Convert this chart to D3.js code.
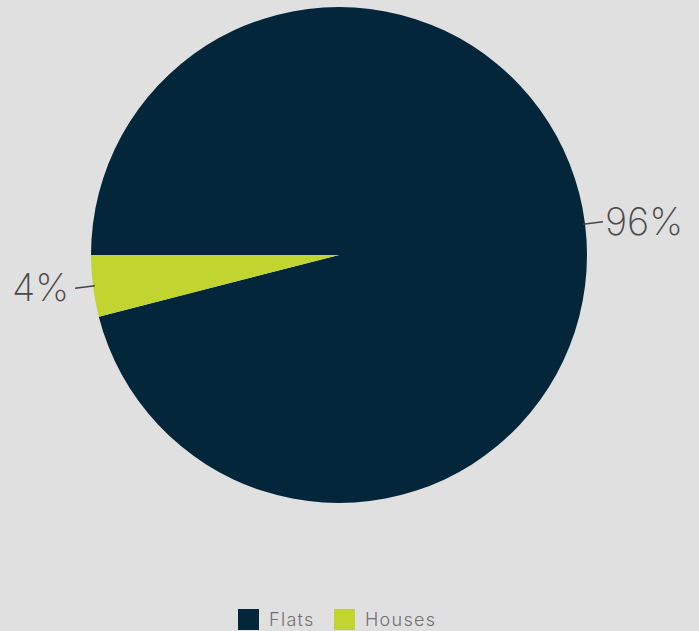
<!DOCTYPE html>
<html>
<head>
<meta charset="utf-8">
<script src="https://cdn.jsdelivr.net/npm/d3@7"></script>
<style>
  body { margin: 0; background: #e0e0e0; }
  svg { display: block; }
</style>
</head>
<body>
<main></main>
<script>
// Data
const categories = ["Flats", "Houses"];
const values = [96, 4];
const labels = ["96%", "4%"];
const colors = ["#03263a", "#c1d42f"];

const width = 699;
const height = 631;
const cx = 339, cy = 255, radius = 248;

const svg = d3.select("main")
  .append("svg")
  .attr("width", width)
  .attr("height", height);

const data = categories.map((c, i) => ({ cat: c, value: values[i], label: labels[i] }));

const pie = d3.pie()
  .value(d => d.value)
  .sort(null)
  .startAngle(-Math.PI / 2)
  .endAngle(3 * Math.PI / 2);

const arc = d3.arc().innerRadius(0).outerRadius(radius);
const color = d3.scaleOrdinal().domain(categories).range(colors);

const g = svg.append("g").attr("transform", `translate(${cx},${cy})`);

const arcs = pie(data);

g.selectAll("path")
  .data(arcs)
  .enter()
  .append("path")
  .attr("d", arc)
  .attr("fill", d => color(d.data.cat));

// Leader lines + labels
const inner = d3.arc().innerRadius(radius - 2).outerRadius(radius - 2);
const outer = d3.arc().innerRadius(radius + 18).outerRadius(radius + 18);

g.selectAll(".leader")
  .data(arcs)
  .enter()
  .append("line")
  .attr("x1", d => inner.centroid(d)[0])
  .attr("y1", d => inner.centroid(d)[1])
  .attr("x2", d => outer.centroid(d)[0])
  .attr("y2", d => outer.centroid(d)[1])
  .attr("stroke", "#444")
  .attr("stroke-width", 1.5);

g.selectAll(".lbl")
  .data(arcs)
  .enter()
  .append("text")
  .attr("x", d => {
    const [x] = outer.centroid(d);
    return x > 0 ? x + 2 : x - 6;
  })
  .attr("y", d => outer.centroid(d)[1] + 13)
  .attr("text-anchor", d => outer.centroid(d)[0] > 0 ? "start" : "end")
  .style("font-family", "Inter, 'Noto Sans', sans-serif")
  .style("font-weight", 200)
  .style("font-size", "38px")
  .style("fill", "#4a4a4a")
  .text(d => d.data.label);

// Legend
const legend = svg.append("g").attr("transform", "translate(238,609)");
const itemX = [0, 96];
const items = legend.selectAll("g")
  .data(categories)
  .enter()
  .append("g")
  .attr("transform", (d, i) => `translate(${itemX[i]},0)`);

items.append("rect")
  .attr("width", 21)
  .attr("height", 21)
  .attr("fill", d => color(d));

items.append("text")
  .attr("x", 31)
  .attr("y", 17)
  .style("font-family", "Inter, 'Noto Sans', sans-serif")
  .style("font-weight", 300)
  .style("font-size", "18px")
  .style("letter-spacing", "1.3px")
  .style("fill", "#707070")
  .text(d => d);
</script>
</body>
</html>
